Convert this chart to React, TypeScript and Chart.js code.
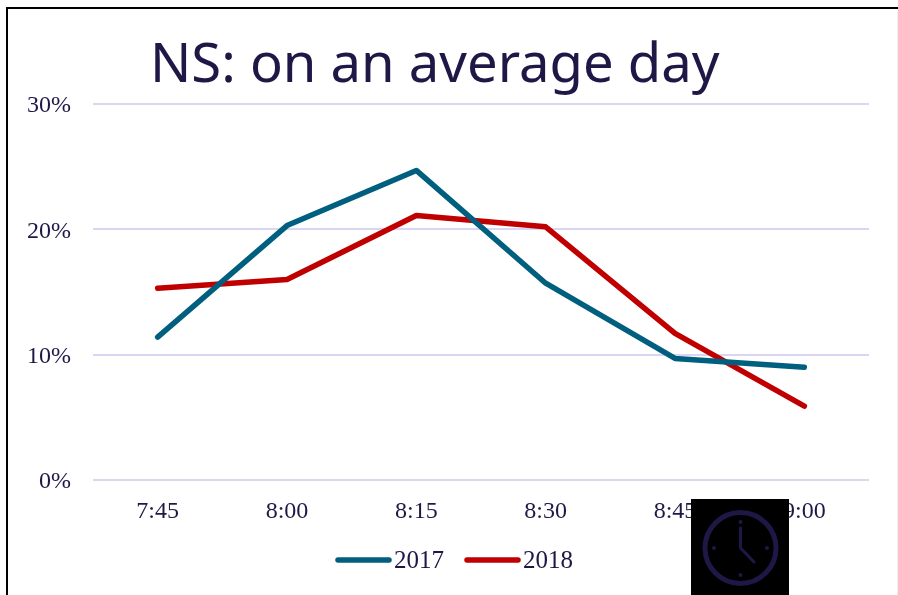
import React, { useEffect, useRef } from "react";
import { Chart, registerables } from "chart.js";

Chart.register(...registerables);

const categories = ["7:45", "8:00", "8:15", "8:30", "8:45", "9:00"];
const values2017 = [11.4, 20.3, 24.7, 15.7, 9.7, 9.0];
const values2018 = [15.3, 16.0, 21.1, 20.2, 11.7, 5.9];
const yTicks = [0, 10, 20, 30];

const INK = "#1f1746";
const SERIF = "'Liberation Serif', serif";

const lineLegend = {
  id: "lineLegend",
  afterDraw(chart: any) {
    const ctx = chart.ctx;
    const y = 560;
    const starts = [338, 467];
    ctx.save();
    chart.data.datasets.forEach((ds: any, i: number) => {
      const x = starts[i];
      ctx.beginPath();
      ctx.moveTo(x, y);
      ctx.lineTo(x + 51, y);
      ctx.lineWidth = 5.5;
      ctx.lineCap = "round";
      ctx.strokeStyle = ds.borderColor;
      ctx.stroke();
      ctx.font = `25px ${SERIF}`;
      ctx.fillStyle = INK;
      ctx.textBaseline = "middle";
      ctx.textAlign = "left";
      ctx.fillText(ds.label, x + 56, y + 1);
    });
    ctx.restore();
  },
};

export default function App() {
  const ref = useRef<HTMLCanvasElement>(null);
  useEffect(() => {
    const chart = new Chart(ref.current!, {
      type: "line",
      data: {
        labels: categories,
        datasets: [
          { label: "2017", data: values2017, borderColor: "#005f7f", backgroundColor: "#005f7f" },
          { label: "2018", data: values2018, borderColor: "#c00000", backgroundColor: "#c00000" },
        ],
      },
      plugins: [lineLegend],
      options: {
        animation: false,
        responsive: false,
        layout: { padding: { top: 104, right: 29, bottom: 0, left: 0 } },
        elements: {
          point: { radius: 0 },
          line: { borderWidth: 5.5, tension: 0, borderCapStyle: "round", borderJoinStyle: "round" },
        },
        plugins: { legend: { display: false }, title: { display: false }, tooltip: { enabled: false } },
        scales: {
          x: {
            offset: true,
            grid: { display: false },
            border: { display: false },
            ticks: { color: INK, font: { family: SERIF, size: 24 }, padding: 9, maxRotation: 0 },
            afterFit: (s: any) => { s.height = 115; },
          },
          y: {
            min: 0,
            max: 30,
            afterBuildTicks: (s: any) => { s.ticks = yTicks.map((value) => ({ value })); },
            grid: { color: "#d9d5f2", lineWidth: 2, drawTicks: false },
            border: { display: false },
            ticks: {
              color: INK,
              font: { family: SERIF, size: 24 },
              padding: 22,
              labelOffset: 2,
              callback: (v: any) => `${v}%`,
            },
            afterFit: (s: any) => { s.width = 93; },
          },
        },
      } as any,
    });
    return () => chart.destroy();
  }, []);

  return (
    <div style={{ position: "fixed", left: 0, top: 0, width: 898, height: 595, overflow: "hidden", background: "#fff" }}>
      <canvas ref={ref} width={898} height={595} style={{ position: "absolute", left: 0, top: 0, display: "block" }} />
      <div style={{ position: "absolute", left: 6, top: 7, right: 0, height: 2, background: "#000" }} />
      <div style={{ position: "absolute", left: 6, top: 7, bottom: 0, width: 2, background: "#000" }} />
      <div style={{ position: "absolute", right: 0, top: 9, bottom: 0, width: 1, background: "#f0f0f0" }} />
      <div style={{ position: "absolute", left: 150, top: 23, fontFamily: "'Noto Sans', sans-serif", fontSize: 54.4, lineHeight: "76px", color: INK, whiteSpace: "nowrap" }}>
        NS: on an average day
      </div>
      <svg width={98} height={96} viewBox="0 0 98 96" style={{ position: "absolute", left: 691, top: 499, background: "#000" }}>
        <circle cx={49.5} cy={49} r={35.5} fill="none" stroke="#1f1746" strokeWidth={5} />
        <circle cx={49.5} cy={23} r={2} fill="#1f1746" />
        <circle cx={49.5} cy={76} r={2} fill="#1f1746" />
        <circle cx={23} cy={49} r={2} fill="#1f1746" />
        <circle cx={76} cy={49} r={2} fill="#1f1746" />
        <polyline points="49.5,29 49.5,49 63,63" fill="none" stroke="#1f1746" strokeWidth={3} strokeLinecap="round" strokeLinejoin="round" />
      </svg>
    </div>
  );
}
